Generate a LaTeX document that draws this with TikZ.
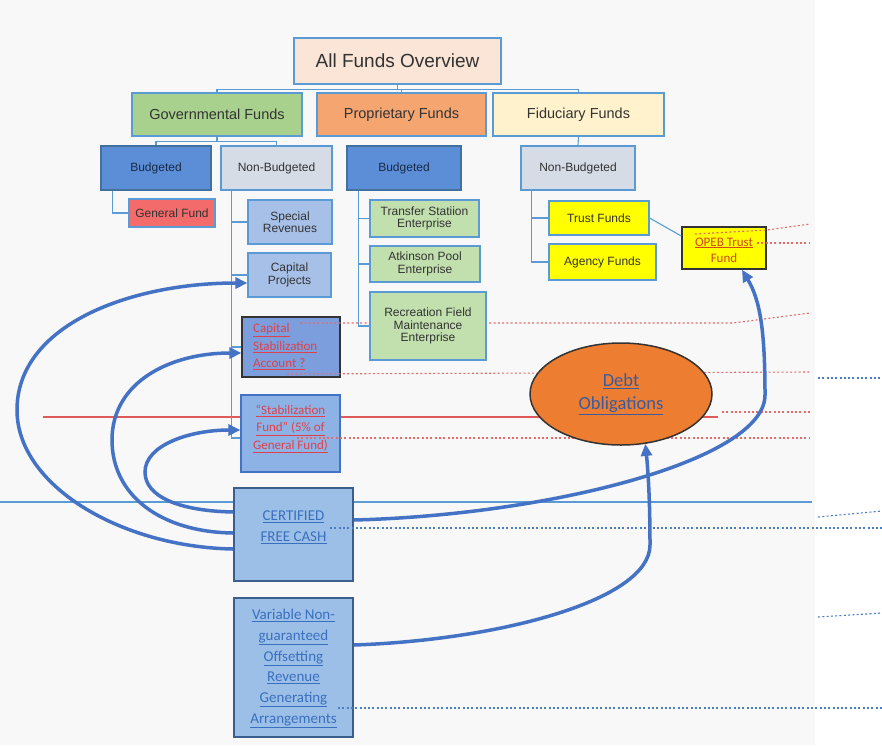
\documentclass[tikz,border=0pt]{standalone}
\usepackage{fontspec}
\setmainfont{Liberation Sans}
\newfontfamily\calfont{Carlito}
\usetikzlibrary{arrows.meta,shapes.geometric}
\definecolor{bgc}{HTML}{F8F8F8}
\definecolor{treec}{HTML}{5B9BD5}
\definecolor{allf}{HTML}{FBE5D6}
\definecolor{govf}{HTML}{A9D18E}
\definecolor{propf}{HTML}{F4A570}
\definecolor{fidf}{HTML}{FFF2CC}
\definecolor{budf}{HTML}{5B8ED6}
\definecolor{budd}{HTML}{41719C}
\definecolor{nbf}{HTML}{D5DCE6}
\definecolor{genf}{HTML}{F46B6B}
\definecolor{ltbf}{HTML}{A7C0E8}
\definecolor{capsf}{HTML}{7C9EDC}
\definecolor{stabf}{HTML}{8DB3E6}
\definecolor{entf}{HTML}{C2DFAE}
\definecolor{yelf}{HTML}{FFFF00}
\definecolor{debtf}{HTML}{ED7D31}
\definecolor{cfcf}{HTML}{9BBFE6}
\definecolor{cfcd}{HTML}{3B5E8C}
\definecolor{darkb}{HTML}{333333}
\definecolor{redtxt}{HTML}{E0404A}
\definecolor{opebtxt}{HTML}{D0481C}
\definecolor{bluetxt}{HTML}{3A6FC0}
\definecolor{debttxt}{HTML}{3A5BA0}
\definecolor{arrowc}{HTML}{4472C4}
\definecolor{reddot}{HTML}{E46C6C}
\definecolor{bluedot}{HTML}{4A7EC4}
\definecolor{redline}{HTML}{E05A5A}
\definecolor{blueline}{HTML}{5B9BD5}
\definecolor{navy}{HTML}{1B2A47}
\tikzset{
  box/.style={draw=treec, line width=1.2pt, inner sep=0pt, align=center, text=darkb},
  lone/.style={box, font=\fontsize{14.5}{16}\selectfont},
  sml/.style={box, font=\fontsize{12}{12.4}\selectfont},
  tree/.style={draw=treec, line width=1.1pt},
  bigarrow/.style={draw=arrowc, line width=3.5pt, -{Triangle[length=12pt,width=11pt]}},
  rdot/.style={draw=reddot, line width=1.1pt, dash pattern=on 2pt off 2.3pt},
  bdot/.style={draw=bluedot, line width=1.1pt, dash pattern=on 2pt off 2.3pt},
  redlink/.style={inner sep=0pt, text=redtxt, font=\calfont\fontsize{13}{17.5}\selectfont},
  bluelink/.style={inner sep=0pt, align=center, text=bluetxt, font=\calfont\fontsize{15}{20.7}\selectfont},
}
\begin{document}
\begin{tikzpicture}[x=1pt,y=-1pt]
\useasboundingbox (0,0) rectangle (882,745);
\fill[bgc] (0,0) rectangle (815,745);
\fill[white] (815,0) rectangle (882,745);

% long horizontal lines
\draw[redline, line width=1.2pt] (43,417) -- (718,417);
\draw[blueline, line width=1.2pt] (0,502) -- (812,502);

% top level boxes
\node[box, fill=allf, minimum width=207, minimum height=46, font=\fontsize{19}{22}\selectfont] (all) at (397.5,61) {All Funds Overview};
\node[lone, fill=govf, minimum width=170, minimum height=43] (gov) at (217,114.5) {Governmental Funds};
\node[lone, fill=propf, minimum width=169, minimum height=43] (prop) at (401.5,114.5) {Proprietary Funds};
\node[lone, fill=fidf, minimum width=171, minimum height=43] (fid) at (578.5,114.5) {Fiduciary Funds};

\node[sml, fill=budf, draw=budd, text=navy, minimum width=110, minimum height=44] (bud1) at (156,168) {Budgeted};
\node[sml, fill=nbf, minimum width=111, minimum height=44] (nb1) at (276.5,168) {Non-Budgeted};
\node[sml, fill=budf, draw=budd, text=navy, minimum width=114, minimum height=44] (bud2) at (404,168) {Budgeted};
\node[sml, fill=nbf, minimum width=114, minimum height=44] (nb2) at (578,168) {Non-Budgeted};

% tree connectors
\draw[tree] (all.south) -- ++(0,5) coordinate (b1);
\draw[tree] (b1) -| (gov.north);
\draw[tree] (b1) -| (prop.north);
\draw[tree] (b1) -| (fid.north);
\draw[tree] (gov.south) -- ++(0,5) coordinate (b2);
\draw[tree] (b2) -| (bud1.north);
\draw[tree] (b2) -| (nb1.north);
\draw[tree] (fid.south) -- (nb2.north);

% second level children
\node[sml, fill=genf, minimum width=86, minimum height=28] (gen) at (172,213) {General Fund};
\node[sml, fill=ltbf, minimum width=84, minimum height=44] (spec) at (290,222) {Special\\Revenues};
\node[sml, fill=ltbf, minimum width=83, minimum height=44] (capp) at (289.5,275) {Capital\\Projects};
\node[box, fill=capsf, draw=darkb, minimum width=98, minimum height=60] (capstab) at (291,347) {};
\node[box, fill=stabf, draw=arrowc, minimum width=99, minimum height=77] (stab) at (290.5,433.5) {};
\node[sml, fill=entf, minimum width=109, minimum height=37] (trans) at (424.5,218.5) {Transfer Statiion\\Enterprise};
\node[sml, fill=entf, minimum width=110, minimum height=36] (atk) at (425,264) {Atkinson Pool\\Enterprise};
\node[sml, fill=yelf, minimum width=100, minimum height=34] (trust) at (599,218) {Trust Funds};
\node[sml, fill=yelf, minimum width=107, minimum height=36] (agency) at (602.5,262) {Agency Funds};
\node[box, fill=yelf, draw=darkb, line width=1.5pt, minimum width=84, minimum height=42] (opeb) at (724,248) {};
\node[box, fill=cfcf, draw=cfcd, line width=1.5pt, minimum width=119, minimum height=93] (cfc) at (293.5,534.5) {};
\node[box, fill=cfcf, draw=cfcd, line width=1.5pt, minimum width=119, minimum height=139] (var) at (293.5,667.5) {};

\draw[tree] (bud1.south west) ++(12,0) |- (gen.west);
\draw[tree] (nb1.south west) ++(11,0) |- (spec.west);
\draw[tree] (nb1.south west) ++(11,0) |- (capp.west);
\draw[tree] (nb1.south west) ++(11,0) |- (capstab.west);
\draw[tree] (nb1.south west) ++(11,0) |- ([yshift=-4.5pt]stab.west);
\draw[tree] (bud2.south west) ++(12,0) |- (trans.west);
\draw[tree] (bud2.south west) ++(12,0) |- (atk.west);
\draw[tree] (nb2.south west) ++(11,0) |- (trust.west);
\draw[tree] (nb2.south west) ++(11,0) |- (agency.west);
\draw[tree] (trust.east) -- ([yshift=12pt]opeb.west);

% texts of link boxes
\node[redlink, anchor=west, align=left] (capstabt) at (253,347) {\underline{Capital}\\\underline{Stabilization}\\\underline{Account ?}};
\node[redlink, align=center] (stabt) at (290.5,429) {\underline{“Stabilization}\\\underline{Fund” (5\% of}\\\underline{General Fund)}};
\node[inner sep=0pt, align=center, text=opebtxt, font=\calfont\fontsize{13}{16}\selectfont] (opebt) at (724,250) {\underline{OPEB Trust}\\Fund};
\node[bluelink] (cfct) at (293.5,527.5) {\underline{CERTIFIED}\\\underline{FREE CASH}};
\node[bluelink] (vart) at (293.5,668.5) {\underline{Variable Non-}\\\underline{guaranteed}\\\underline{Offsetting}\\\underline{Revenue}\\\underline{Generating}\\\underline{Arrangements}};

% dotted lines
\draw[rdot] (300,323) -- (733,323) -- (810,313);
\draw[rdot] (287,374) -- (810,372);
\draw[rdot] (722,412) -- (810,412);
\draw[rdot] (297,438) -- (810,438);
\draw[rdot] (695,234) -- (767,230) -- (810,224);
\draw[rdot] (757,243) -- (810,243);
\draw[bdot] (330,528) -- (882,528);
\draw[bdot] (338,708) -- (882,708);
\draw[bdot] (818,378) -- (882,378);
\draw[bdot] (818,517) -- (882,511);
\draw[bdot] (818,617) -- (882,613);

% recreation box (covers dotted line)
\node[sml, fill=entf, minimum width=116, minimum height=68] (rec) at (428,326) {Recreation Field\\Maintenance\\Enterprise};
\draw[tree] (bud2.south west) ++(12,0) |- (rec.west);

% debt ellipse
\node[ellipse, draw=darkb, line width=1.5pt, fill=debtf, minimum width=182, minimum height=102, inner sep=0pt, align=center, text=debttxt, font=\calfont\fontsize{18.5}{23}\selectfont] (debt) at (621,394) {\underline{Debt}\\\underline{Obligations}};

% big arrows
\draw[bigarrow] ([yshift=-14.5pt]cfc.west) .. controls (120,547) and (17,485) .. (17,410) .. controls (17,325) and (130,283) .. ([yshift=-8pt]capp.west);
\draw[bigarrow] ([yshift=1.5pt]cfc.west) .. controls (160,532) and (112,495) .. (112,440) .. controls (112,382) and (170,353) .. ([yshift=-6pt]capstab.west);
\draw[bigarrow] ([yshift=22.5pt]cfc.west) .. controls (180,511) and (145,497) .. (145,472) .. controls (145,445) and (190,430) .. ([yshift=3.5pt]stab.west);
\draw[bigarrow] ([yshift=14.5pt]cfc.east) .. controls (550,515) and (765,460) .. (765,395) .. controls (765,330) and (760,300) .. ([xshift=18pt]opeb.south);
\draw[bigarrow] ([yshift=22.5pt]var.east) .. controls (500,640) and (650,600) .. (650,545) .. controls (650,500) and (648,470) .. (debt.-64);
\end{tikzpicture}
\end{document}
